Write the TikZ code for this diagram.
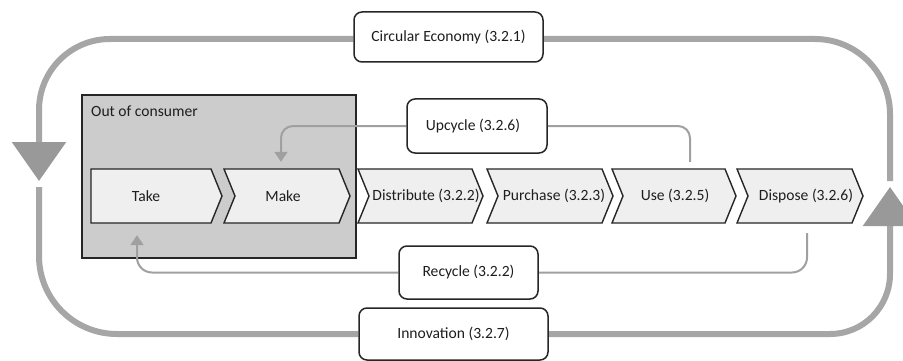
\documentclass[tikz,border=0pt]{standalone}
\usepackage{fontspec}
\setmainfont{Carlito}
\usetikzlibrary{arrows.meta}
\definecolor{loopgray}{HTML}{A6A6A6}
\definecolor{tipgray}{HTML}{999999}
\definecolor{conngray}{HTML}{A0A0A0}
\definecolor{boxgray}{HTML}{CCCCCC}
\definecolor{chevfill}{HTML}{EFEFEF}
\definecolor{edge}{HTML}{262626}
\definecolor{txt}{HTML}{1E1E1E}
\pgfdeclarelayer{loop}
\pgfdeclarelayer{conn}
\pgfsetlayers{loop,conn,main}
\newcommand{\mkchev}[6]{%
  \draw[chevbox] (#2,169) -- (#3,169) -- (#3+11,196) -- (#3,223) -- (#2,223) -- (#2+#4,196) -- cycle;
  \node[chevtext] (#1) at (#5,196) {#6};
}
\begin{document}
\begin{tikzpicture}[x=1pt,y=-1pt,
  every node/.style={font=\fontsize{15.6}{18}\selectfont, text=txt},
  bigline/.style={draw=loopgray, line width=6pt},
  bigtip/.style={-{Triangle[width=53pt,length=39pt,color=tipgray]}},
  thinconn/.style={draw=conngray, line width=2pt},
  smalltip/.style={-{Triangle[width=13pt,length=10pt]}},
  labelbox/.style={draw=edge, fill=white, line width=1.5pt, rounded corners=8pt, inner sep=0pt},
  chevbox/.style={draw=edge, fill=chevfill, line width=1.4pt, line join=miter},
  chevtext/.style={inner sep=0pt, minimum height=54pt, minimum width=20pt},
]
\clip (0,0) rectangle (903,361);

% label boxes
\node[labelbox, minimum width=189pt, minimum height=50pt] (ce) at (448.5,37) {Circular Economy (3.2.1)};
\node[labelbox, minimum width=140pt, minimum height=54pt] (up) at (477,126) {\hspace*{-8pt}Upcycle (3.2.6)};
\node[labelbox, minimum width=139pt, minimum height=53pt] (rec) at (468.5,272.5) {Recycle (3.2.2)};
\node[labelbox, minimum width=189pt, minimum height=52pt] (inn) at (453.5,334) {Innovation (3.2.7)};

\coordinate (lefttip) at (39,181);
\coordinate (leftstart) at (39,187);
\coordinate (righttip) at (890,187);
\coordinate (rightstart) at (890,181);

% chevrons
\mkchev{take}{91}{211}{0}{146}{Take}
\mkchev{make}{224}{339}{11}{283}{Make}
\mkchev{dist}{358}{472}{11}{426}{Distribute (3.2.2)}
\mkchev{purch}{487}{602}{11}{554}{Purchase (3.2.3)}
\mkchev{use}{612}{725}{11}{675}{Use (3.2.5)}
\mkchev{disp}{737}{852}{11}{806}{Dispose (3.2.6)}

\begin{pgfonlayer}{loop}
\fill[white] (0,0) rectangle (903,361);
% big loop
\draw[bigline, bigtip, rounded corners=71pt] ([yshift=-2pt]ce.west) -| (lefttip);
\draw[bigline, rounded corners=78pt] (leftstart) |- (inn.west);
\draw[bigline, bigtip, rounded corners=60pt] (inn.east) -| (righttip);
\draw[bigline, rounded corners=75pt] (rightstart) |- ([yshift=-2pt]ce.east);
% out of consumer area
\node[draw=edge, fill=boxgray, line width=1.5pt, minimum width=274pt, minimum height=163pt, inner sep=0pt] (ooc) at (219,176.5) {};
\node[anchor=west, inner sep=0pt] (ooclabel) at (91,111) {Out of consumer};
\end{pgfonlayer}

\begin{pgfonlayer}{conn}
\draw[thinconn, rounded corners=12pt] (up.east) -| ([shift={(15pt,7pt)}]use.north);
\draw[thinconn, smalltip, rounded corners=12pt] (up.west) -| ([shift={(-2pt,7pt)}]make.north);
\draw[thinconn, rounded corners=15pt] ([shift={(1pt,-10pt)}]disp.south) |- (rec.east);
\draw[thinconn, smalltip, rounded corners=15pt] (rec.west) -| ([shift={(-9pt,-12pt)}]take.south);
\end{pgfonlayer}
\end{tikzpicture}
\end{document}
